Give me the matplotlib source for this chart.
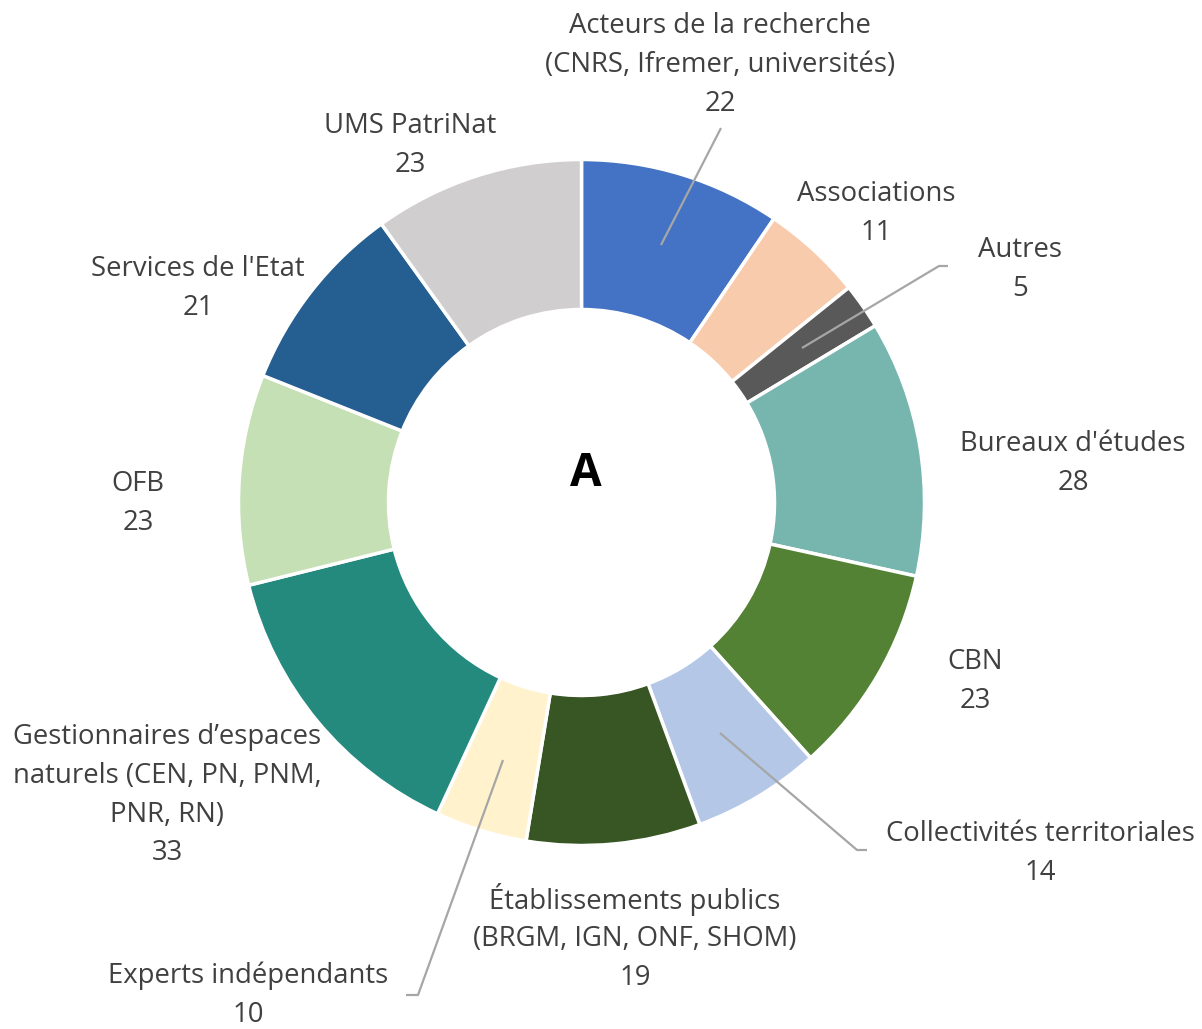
import matplotlib
matplotlib.use("Agg")
import matplotlib.pyplot as plt

categories = ["Acteurs de la recherche\n(CNRS, Ifremer, universités)", "Associations", "Autres",
              "Bureaux d'études", "CBN", "Collectivités territoriales",
              "Établissements publics\n(BRGM, IGN, ONF, SHOM)", "Experts indépendants",
              "Gestionnaires d’espaces\nnaturels (CEN, PN, PNM,\nPNR, RN)", "OFB",
              "Services de l'Etat", "UMS PatriNat"]
values = [22, 11, 5, 28, 23, 14, 19, 10, 33, 23, 21, 23]
colors = ["#4472C4", "#F8CBAD", "#595959", "#77B6AE", "#548235", "#B4C7E7",
          "#375623", "#FFF2CC", "#248A7D", "#C5E0B4", "#255E91", "#D0CECE"]

W, H = 1202, 1029
fig = plt.figure(figsize=(W / 100, H / 100), dpi=100)
ax = fig.add_axes([0, 0, 1, 1])

cx, cy = 581.5, H - 502.5
R = 343
ax.pie(values, colors=colors, startangle=90, counterclock=False,
       center=(cx, cy), radius=R,
       wedgeprops=dict(width=150, edgecolor="white", linewidth=2.5))
ax.set_xlim(0, W)
ax.set_ylim(0, H)
ax.set_aspect("equal")
ax.axis("off")

# label positions (pixel coords: x center, y of first line center)
label_pos = [(720, 26), (876, 194), (1020, 250), (1073, 444), (975, 662), (1040, 834),
             (635, 900), (248, 976), (167, 737), (138, 484), (198, 269), (410, 126)]
line_h = 38.8
font = ["Open Sans", "DejaVu Sans"]
for name, val, (x, y) in zip(categories, values, label_pos):
    lines = name.split("\n") + [str(val)]
    for i, ln in enumerate(lines):
        ax.text(x, H - (y + i * line_h), ln, ha="center", va="center",
                fontsize=19.8, color="#404040", family=font)

# leader lines (pixel coords)
leaders = [
    [(661, 245), (721, 128)],
    [(802, 348), (939, 266), (948, 266)],
    [(720, 733), (857, 850), (867, 850)],
    [(503, 760), (418, 995), (406, 995)],
]
for pts in leaders:
    xs = [p[0] for p in pts]
    ys = [H - p[1] for p in pts]
    ax.plot(xs, ys, color="#A6A6A6", lw=1.6, solid_capstyle="butt")

ax.text(586, H - 473, "A", ha="center", va="center", fontsize=33,
        fontweight="bold", color="black", family=font)

fig.savefig("out.png", dpi=100)
